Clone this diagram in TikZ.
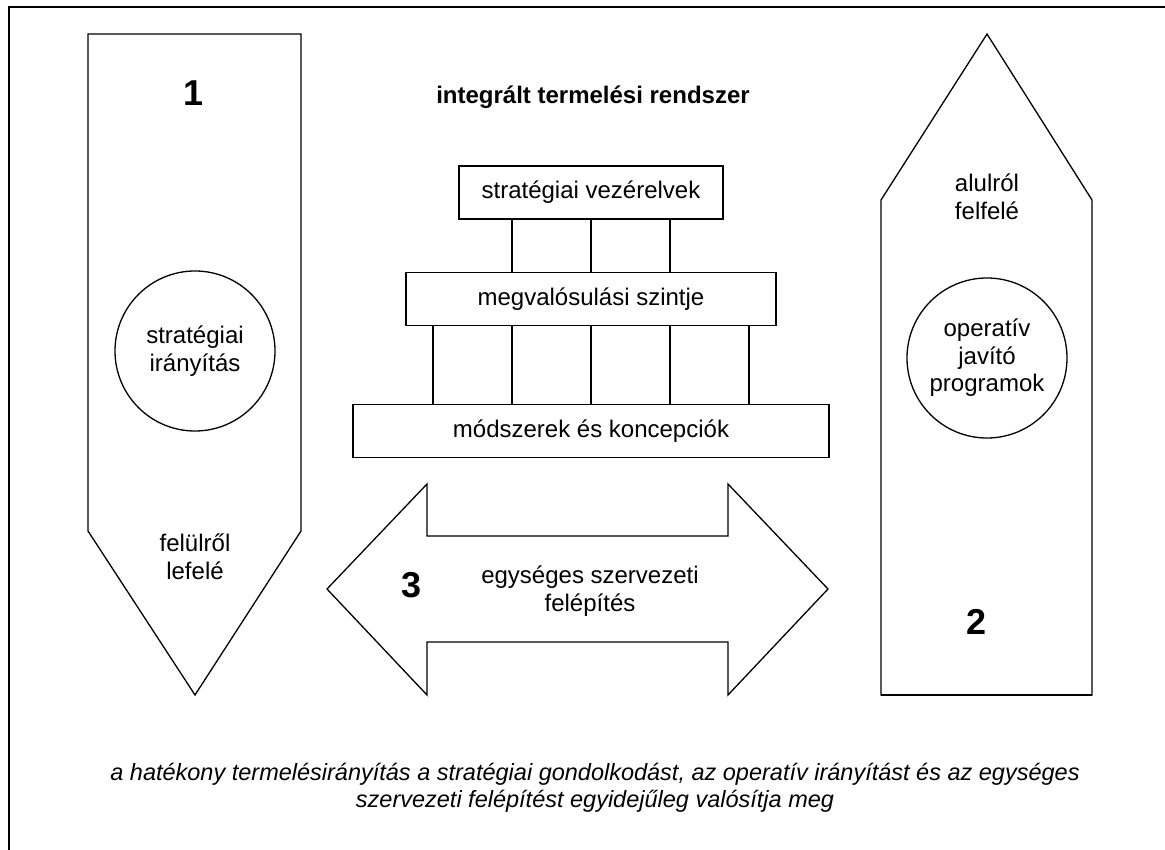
\documentclass[tikz,border=0pt]{standalone}
\usepackage{fontspec}
\setmainfont{Liberation Sans}
\usetikzlibrary{positioning}

\begin{document}
\begin{tikzpicture}[x=1pt, y=-1pt, line width=1.3pt,
    font=\fontsize{24}{27.6}\selectfont,
    lvl/.style={rectangle, draw, minimum height=53, inner sep=0pt, text centered},
    ring/.style={circle, draw, minimum size=160, inner sep=0pt, align=center},
    lbl/.style={align=center},
    num/.style={font=\fontsize{36}{40}\selectfont\bfseries}
]
\useasboundingbox (0,0) rectangle (1165,850);

% outer frame (only top and left edge in view)
\begin{scope}
\clip (0,0) rectangle (1165,850);
\draw[line width=2pt] (9,7) rectangle (1180,870);
\end{scope}

% left arrow: top-down
\draw (88,34) -- (301,34) -- (301,531) -- (195,695) -- (88,531) -- cycle;
\node[num] (n1) at (194,93) {1};
\node[ring] (sir) at (195,351) {stratégiai\\irányítás};
\node[lbl] (fl) at (195,557) {felülről\\lefelé};

% right arrow: bottom-up
\draw (987,34) -- (1092,200) -- (1092,695) -- (881,695) -- (881,200) -- cycle;
\draw[line width=2pt] (881,695) -- (1092,695);
\node[lbl] (af) at (987,197) {alulról\\felfelé};
\node[ring] (ojp) at (987,358) {operatív\\javító\\programok};
\node[num] (n2) at (977,622) {2};

% levels of the system
\node[font=\fontsize{24}{27.6}\selectfont\bfseries] (title) at (593,97) {integrált termelési rendszer};
\node[lvl, minimum width=264] (sv) at (591,192.5) {stratégiai vezérelvek};
\node[lvl, minimum width=370] (mv) at (591,299) {megvalósulási szintje};
\node[lvl, minimum width=476] (mk) at (591,431) {módszerek és koncepciók};

\foreach \x in {512,591,670}
    \draw (\x,0 |- sv.south) -- (\x,0 |- mv.north);
\foreach \x in {433,512,591,670,749}
    \draw (\x,0 |- mv.south) -- (\x,0 |- mk.north);

% double arrow
\draw (327,589) -- (427,484) -- (427,536) -- (728,536) -- (728,484) -- (828,589)
    -- (728,695) -- (728,642) -- (427,642) -- (427,695) -- cycle;
\node[num] (n3) at (412,585) {3};
\node[lbl] (esz) at (590,591) {egységes szervezeti\\felépítés};

% summary
\node[lbl, font=\fontsize{23.5}{27}\selectfont\itshape] (sum) at (595,788)
    {a hatékony termelésirányítás a stratégiai gondolkodást, az operatív irányítást és az egységes\\szervezeti felépítést egyidejűleg valósítja meg};

\end{tikzpicture}
\end{document}
